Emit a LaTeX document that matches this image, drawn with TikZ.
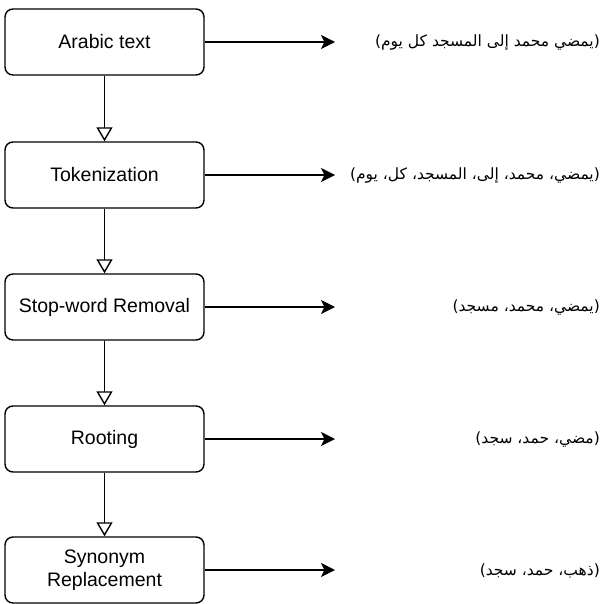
\documentclass[tikz,border=0pt]{standalone}
\usepackage{fontspec}
\setmainfont{Liberation Sans}
\newfontfamily\arabicfont[Script=Arabic]{DejaVu Sans}
\TeXXeTstate=1
\usetikzlibrary{arrows.meta}
\tikzset{
  stagebox/.style={draw, line width=1.4pt, rounded corners=8pt, minimum width=199pt, minimum height=66pt, align=center, inner sep=0pt, font=\fontsize{19.5}{23}\selectfont},
  flowarrow/.style={line width=1.4pt, -{Triangle[open, length=14pt, width=16pt, fill=white]}},
  outarrow/.style={line width=1.4pt, -{Stealth[length=14pt, width=14pt, inset=3.5pt]}},
  artext/.style={anchor=east, inner sep=0pt, font=\arabicfont\fontsize{15.5}{18}\selectfont}
}
\begin{document}
\begin{tikzpicture}[x=1pt, y=-1pt]
\useasboundingbox (0,0) rectangle (603,604);
\node[stagebox] (s1) at (104.5,42) {Arabic text};
\node[stagebox] (s2) at (104.5,175) {Tokenization};
\node[stagebox] (s3) at (104.5,307) {Stop-word Removal};
\node[stagebox] (s4) at (104.5,439) {Rooting};
\node[stagebox] (s5) at (104.5,570) {Synonym\\Replacement};
\draw[flowarrow] (s1) -- (s2);
\draw[flowarrow] (s2) -- (s3);
\draw[flowarrow] (s3) -- (s4);
\draw[flowarrow] (s4) -- (s5);
\coordinate (e1) at (335,42);
\coordinate (e2) at (335,175);
\coordinate (e3) at (335,307);
\coordinate (e4) at (335,439);
\coordinate (e5) at (335,570);
\draw[outarrow] (s1.east) -- (e1);
\draw[outarrow] (s2.east) -- (e2);
\draw[outarrow] (s3.east) -- (e3);
\draw[outarrow] (s4.east) -- (e4);
\draw[outarrow] (s5.east) -- (e5);
\node[artext] (t1) at (600,43) {\beginR(يمضي محمد إلى المسجد كل يوم)\endR};
\node[artext] (t2) at (600,176) {\beginR(يمضي، محمد، إلى، المسجد، كل، يوم)\endR};
\node[artext] (t3) at (600,308) {\beginR(يمضي، محمد، مسجد)\endR};
\node[artext] (t4) at (600,440) {\beginR(مضي، حمد، سجد)\endR};
\node[artext] (t5) at (600,571) {\beginR(ذهب، حمد، سجد)\endR};
\end{tikzpicture}
\end{document}
